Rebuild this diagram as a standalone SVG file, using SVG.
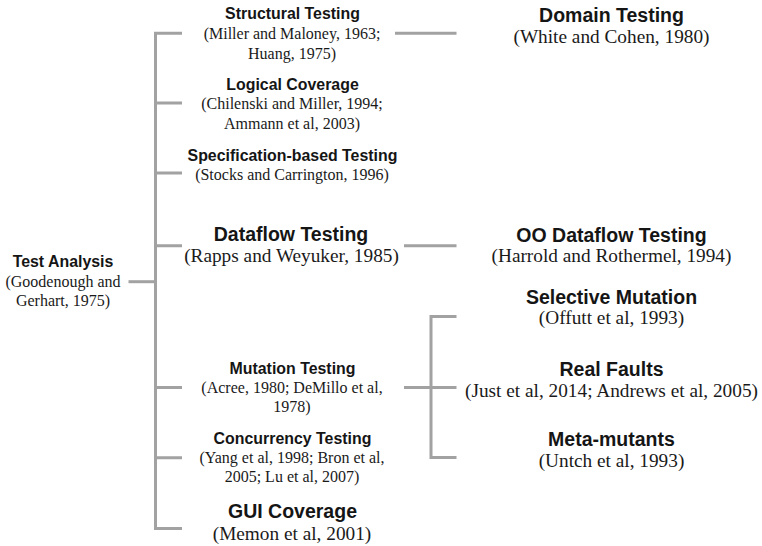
<svg xmlns="http://www.w3.org/2000/svg" width="762" height="546" viewBox="0 0 762 546">
<style>
.ln{fill:none;stroke:#a2a2a2;stroke-width:3;stroke-linecap:butt;stroke-linejoin:miter}
.t{font-family:"Liberation Sans",Arial,sans-serif;font-weight:bold;font-size:15.9px;fill:#151515;text-anchor:middle}
.T{font-family:"Liberation Sans",Arial,sans-serif;font-weight:bold;font-size:19.5px;fill:#151515;text-anchor:middle}
.c{font-family:"Liberation Serif","Times New Roman",serif;font-size:16px;fill:#1a1a1a;text-anchor:middle}
.C{font-family:"Liberation Serif","Times New Roman",serif;font-size:19.3px;fill:#1a1a1a;text-anchor:middle}
</style>
<rect width="762" height="546" fill="#ffffff"/>
<g id="connectors">
<path class="ln" d="M182,33.2 H155.5 V528.5 H182"/>
<path class="ln" d="M155.5,103 H182 M155.5,173 H182 M155.5,245.7 H182 M155.5,387.5 H182 M155.5,457.7 H182"/>
<path class="ln" d="M128.5,281.7 H155.5"/>
<path class="ln" d="M395,33.2 H456.5"/>
<path class="ln" d="M404,245.7 H456.5"/>
<path class="ln" d="M404,387.5 H431"/>
<path class="ln" d="M456.5,316.5 H431 V457.5 H456.5 M431,387.5 H456.5"/>
</g>
<g id="test-analysis">
<text class="t" x="63" y="267.3">Test Analysis</text>
<text class="c" x="63" y="287">(Goodenough and</text>
<text class="c" x="63" y="305.5">Gerhart, 1975)</text>
</g>
<g id="structural-testing">
<text class="t" x="292.5" y="19">Structural Testing</text>
<text class="c" x="292" y="39">(Miller and Maloney, 1963;</text>
<text class="c" x="292" y="58.5">Huang, 1975)</text>
</g>
<g id="logical-coverage">
<text class="t" x="292.5" y="90">Logical Coverage</text>
<text class="c" x="292" y="109">(Chilenski and Miller, 1994;</text>
<text class="c" x="292" y="128.5">Ammann et al, 2003)</text>
</g>
<g id="specification-based-testing">
<text class="t" x="292.5" y="160.7">Specification-based Testing</text>
<text class="c" x="292" y="179.5">(Stocks and Carrington, 1996)</text>
</g>
<g id="dataflow-testing">
<text class="T" x="291" y="241">Dataflow Testing</text>
<text class="C" x="291.5" y="262">(Rapps and Weyuker, 1985)</text>
</g>
<g id="mutation-testing">
<text class="t" x="292.5" y="374">Mutation Testing</text>
<text class="c" x="292" y="393.3">(Acree, 1980; DeMillo et al,</text>
<text class="c" x="292" y="412">1978)</text>
</g>
<g id="concurrency-testing">
<text class="t" x="292.5" y="444">Concurrency Testing</text>
<text class="c" x="292" y="463.3">(Yang et al, 1998; Bron et al,</text>
<text class="c" x="292" y="481.5">2005; Lu et al, 2007)</text>
</g>
<g id="gui-coverage">
<text class="T" x="292.5" y="517.7">GUI Coverage</text>
<text class="C" x="292" y="540">(Memon et al, 2001)</text>
</g>
<g id="domain-testing">
<text class="T" x="611.5" y="21.7">Domain Testing</text>
<text class="C" x="611.5" y="43.3">(White and Cohen, 1980)</text>
</g>
<g id="oo-dataflow-testing">
<text class="T" x="611.5" y="242.3">OO Dataflow Testing</text>
<text class="C" x="611.5" y="262.3">(Harrold and Rothermel, 1994)</text>
</g>
<g id="selective-mutation">
<text class="T" x="611.5" y="304">Selective Mutation</text>
<text class="C" x="611.5" y="324">(Offutt et al, 1993)</text>
</g>
<g id="real-faults">
<text class="T" x="611.5" y="375.7">Real Faults</text>
<text class="C" x="611.5" y="396.7">(Just et al, 2014; Andrews et al, 2005)</text>
</g>
<g id="meta-mutants">
<text class="T" x="611.5" y="445.7">Meta-mutants</text>
<text class="C" x="611.5" y="466.7">(Untch et al, 1993)</text>
</g>
</svg>
